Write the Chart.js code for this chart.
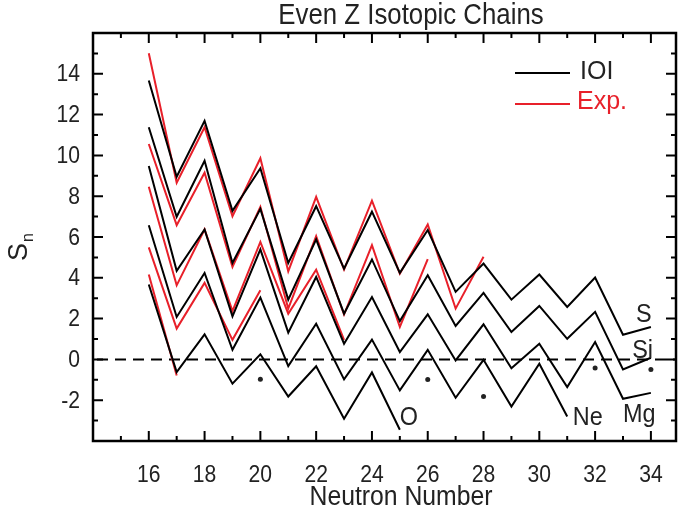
<!DOCTYPE html>
<html>
<head>
<meta charset="utf-8">
<script src="https://cdn.jsdelivr.net/npm/chart.js@4/dist/chart.umd.min.js"></script>
<style>
  body { margin: 0; background: #fff; }
  canvas { display: block; }
</style>
</head>
<body>
<canvas id="snChart" width="680" height="511"></canvas>
<script>
// neutron numbers along the x axis
var neutronNumbers = [16, 17, 18, 19, 20, 21, 22, 23, 24, 25, 26, 27, 28, 29, 30, 31, 32, 33, 34];

// one-neutron separation energies (MeV), IOI calculation
var sIOI  = [13.67, 8.95, 11.69, 7.28, 9.37, 4.73, 7.51, 4.45, 7.24, 4.24, 6.34, 3.31, 4.70, 2.93, 4.16, 2.57, 4.01, 1.21, 1.59];
var siIOI = [11.38, 6.99, 9.74, 4.73, 7.38, 2.93, 5.88, 2.24, 4.90, 1.88, 4.13, 1.64, 3.26, 1.34, 2.62, 1.01, 2.33, -0.49, 0.08];
var mgIOI = [9.48, 4.34, 6.37, 2.11, 5.39, 1.31, 4.04, 0.77, 3.06, 0.36, 2.21, -0.05, 1.72, -0.43, 0.77, -1.36, 0.85, -1.93, -1.64];
var neIOI = [6.58, 2.08, 4.24, 0.47, 3.03, -0.33, 1.75, -0.98, 0.97, -1.52, 0.47, -1.88, -0.02, -2.31, -0.21, -2.80];
var oIOI  = [3.67, -0.62, 1.23, -1.19, 0.25, -1.82, -0.34, -2.91, -0.64, -3.45];

// experimental values
var sExp  = [15.01, 8.66, 11.38, 7.02, 9.86, 4.32, 7.97, 4.40, 7.78, 4.20, 6.61, 2.49, 5.03];
var siExp = [10.56, 6.58, 9.15, 4.53, 7.48, 2.49, 6.04, 2.20, 5.60, 1.59, 4.91];
var mgExp = [8.46, 3.63, 6.37, 2.37, 5.76, 2.24, 4.40, 0.96];
var neExp = [5.49, 1.51, 3.75, 0.96, 3.39];
var oExp  = [4.16, -0.79];

// isolated points
var dotN = [20, 26, 28, 32, 34];
var dotS = [-0.97, -0.98, -1.82, -0.42, -0.50];

// tick labels
var xTicks = [16, 18, 20, 22, 24, 26, 28, 30, 32, 34];
var yTicks = [-2, 0, 2, 4, 6, 8, 10, 12, 14];

var FONT = "'Liberation Sans', Arial, sans-serif";
var RED = '#e8202a';
var INK = '#222';

function pts(vals) {
  return vals.map(function (v, i) { return { x: neutronNumbers[i], y: v }; });
}

function chain(vals, color) {
  return {
    data: pts(vals),
    borderColor: color,
    borderWidth: 2,
    pointRadius: 0,
    tension: 0,
    fill: false
  };
}

// condensed text: regular face squeezed horizontally
function narrow(ctx, text, x, y, size, align, squeeze) {
  ctx.save();
  ctx.font = size + 'px ' + FONT;
  ctx.textAlign = align;
  ctx.translate(x, y);
  ctx.scale(squeeze || 0.88, 1);
  ctx.fillText(text, 0, 0);
  ctx.restore();
}

var decor = {
  id: 'decor',
  beforeDatasetsDraw: function (chart) {
    var ctx = chart.ctx, a = chart.chartArea, y0 = chart.scales.y.getPixelForValue(0);
    ctx.save();
    ctx.strokeStyle = '#000';
    ctx.lineWidth = 2;
    ctx.setLineDash([11, 7]);
    ctx.beginPath();
    ctx.moveTo(a.left + 4, y0);
    ctx.lineTo(a.right, y0);
    ctx.stroke();
    ctx.restore();
  },
  afterDraw: function (chart) {
    var ctx = chart.ctx, a = chart.chartArea;
    var xs = chart.scales.x, ys = chart.scales.y;
    ctx.save();
    ctx.strokeStyle = '#000';
    ctx.lineWidth = 2.5;
    ctx.strokeRect(a.left, a.top, a.right - a.left, a.bottom - a.top);

    // inward ticks on all four sides
    ctx.lineWidth = 2;
    ctx.beginPath();
    var n, len, px, v;
    for (n = 15; n <= 34; n++) {
      len = n % 2 === 0 ? 10 : 5;
      px = xs.getPixelForValue(n);
      ctx.moveTo(px, a.bottom); ctx.lineTo(px, a.bottom - len);
      ctx.moveTo(px, a.top); ctx.lineTo(px, a.top + len);
    }
    for (v = -3; v <= 15; v++) {
      len = v % 2 === 0 ? 10 : 5;
      px = ys.getPixelForValue(v);
      ctx.moveTo(a.left, px); ctx.lineTo(a.left + len, px);
      ctx.moveTo(a.right, px); ctx.lineTo(a.right - len, px);
    }
    ctx.stroke();

    // tick labels
    ctx.fillStyle = INK;
    ctx.textBaseline = 'middle';
    xs.ticks.forEach(function (t) {
      narrow(ctx, String(t.value), xs.getPixelForValue(t.value), a.bottom + 34, 24, 'center');
    });
    ys.ticks.forEach(function (t) {
      narrow(ctx, String(t.value), a.left - 13, ys.getPixelForValue(t.value) + 1, 24, 'right');
    });

    // title and axis titles
    narrow(ctx, 'Even Z Isotopic Chains', 411, 16, 29, 'center', 0.89);
    narrow(ctx, 'Neutron Number', 401, 497, 27.5, 'center', 0.9);

    ctx.save();
    ctx.translate(18, 252);
    ctx.rotate(-Math.PI / 2);
    ctx.textAlign = 'left';
    ctx.textBaseline = 'alphabetic';
    ctx.font = '27px ' + FONT;
    ctx.fillText('S', -9, 9);
    ctx.font = '16px ' + FONT;
    ctx.fillText('n', 10, 15);
    ctx.restore();

    // chain labels
    ctx.textBaseline = 'alphabetic';
    var labels = [['O', 25.0, -3.24], ['Ne', 31.2, -3.24], ['Mg', 33.0, -3.05], ['Si', 33.33, 0.05], ['S', 33.47, 1.82]];
    labels.forEach(function (l) {
      narrow(ctx, l[0], xs.getPixelForValue(l[1]), ys.getPixelForValue(l[2]), 26, 'left', 0.9);
    });

    // legend
    ctx.lineWidth = 2;
    ctx.beginPath();
    ctx.strokeStyle = '#000';
    ctx.moveTo(515, 73); ctx.lineTo(570, 73);
    ctx.stroke();
    ctx.beginPath();
    ctx.strokeStyle = RED;
    ctx.moveTo(515, 104); ctx.lineTo(570, 104);
    ctx.stroke();
    ctx.font = '25px ' + FONT;
    ctx.textAlign = 'left';
    ctx.textBaseline = 'middle';
    ctx.fillStyle = INK;
    ctx.fillText('IOI', 580, 72);
    ctx.fillStyle = RED;
    ctx.fillText('Exp.', 577, 102);
    ctx.restore();
  }
};

var ctx = document.getElementById('snChart').getContext('2d');
var snChart = new Chart(ctx, {
  type: 'line',
  data: {
    datasets: [
      chain(sIOI, '#000'),
      chain(siIOI, '#000'),
      chain(mgIOI, '#000'),
      chain(neIOI, '#000'),
      chain(oIOI, '#000'),
      chain(sExp, RED),
      chain(siExp, RED),
      chain(mgExp, RED),
      chain(neExp, RED),
      chain(oExp, RED),
      {
        data: dotN.map(function (n, i) { return { x: n, y: dotS[i] }; }),
        showLine: false,
        pointRadius: 2.5,
        pointBackgroundColor: INK,
        pointBorderWidth: 0
      }
    ]
  },
  options: {
    responsive: false,
    animation: false,
    devicePixelRatio: 1,
    layout: { padding: { top: 33, right: 1, left: 0, bottom: 0 } },
    plugins: { legend: { display: false }, tooltip: { enabled: false } },
    scales: {
      x: {
        type: 'linear',
        min: 14,
        max: 34.9,
        grid: { display: false, drawTicks: false },
        border: { display: false },
        afterBuildTicks: function (s) { s.ticks = xTicks.map(function (v) { return { value: v }; }); },
        afterFit: function (s) { s.height = 70; },
        ticks: { display: false }
      },
      y: {
        type: 'linear',
        min: -4,
        max: 16,
        grid: { display: false, drawTicks: false },
        border: { display: false },
        afterBuildTicks: function (s) { s.ticks = yTicks.map(function (v) { return { value: v }; }); },
        afterFit: function (s) { s.width = 93; },
        ticks: { display: false }
      }
    }
  },
  plugins: [decor]
});
</script>
</body>
</html>
